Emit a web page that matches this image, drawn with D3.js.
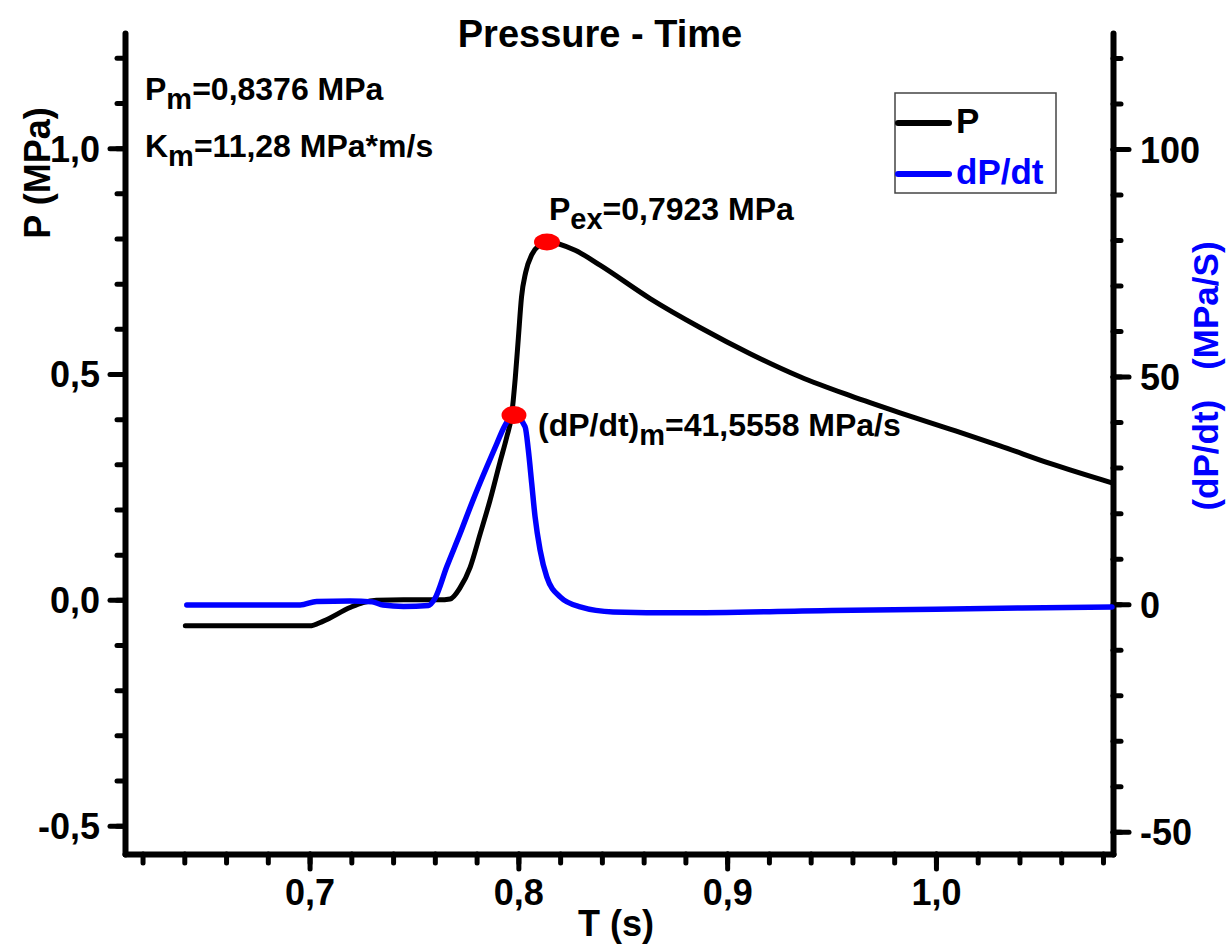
<!DOCTYPE html>
<html>
<head>
<meta charset="utf-8">
<script src="https://cdn.jsdelivr.net/npm/d3@7"></script>
<style>
  body { margin: 0; background: #fff; }
  text { font-family: "Liberation Sans", Arial, sans-serif; font-weight: bold; }
</style>
</head>
<body>
<div id="chart"></div>
<script>
// pressure curve
var pTime  = [0.6405, 0.700, 0.7066, 0.7194, 0.7256, 0.732, 0.745, 0.762, 0.7673, 0.7721, 0.7769, 0.7817,
              0.7864, 0.7912, 0.7944, 0.7968, 0.7985, 0.8000, 0.8015, 0.8035, 0.8065, 0.8100, 0.8137,
              0.8272, 0.8391, 0.8631, 0.8870, 0.9110, 0.9349, 0.9589, 0.9828, 1.0067, 1.0307, 1.0546, 1.0843];
var pValue = [-0.0576, -0.0576, -0.047, -0.017, -0.006, -0.001, 0.0, 0.0, 0.002, 0.027, 0.072, 0.146,
              0.22, 0.305, 0.36, 0.41, 0.49, 0.58, 0.67, 0.725, 0.765, 0.785, 0.7923,
              0.774, 0.741, 0.667, 0.603, 0.545, 0.494, 0.452, 0.414, 0.378, 0.341, 0.302, 0.259];

// dP/dt curve (right axis)
var dTime  = [0.6412, 0.6955, 0.7034, 0.7194, 0.7300, 0.7352, 0.7450, 0.7570, 0.7600, 0.7657, 0.7721,
              0.7783, 0.7849, 0.7897, 0.7936, 0.7979, 0.8032, 0.8048, 0.8064, 0.8080, 0.8104, 0.8136,
              0.8200, 0.8296, 0.8454, 0.8775, 0.9500, 1.0000, 1.0843];
var dValue = [-0.2, -0.2, 0.6, 0.7, 0.5, -0.2, -0.5, -0.3, 1.2, 8.2, 15.5,
              22.9, 30.2, 35.3, 39.3, 41.56, 39.0, 33.8, 26.5, 19.2, 11.9, 6.0,
              1.6, -0.6, -1.7, -1.9, -1.4, -1.1, -0.6];

var xTicks = [0.7, 0.8, 0.9, 1.0];
var yLeftTicks = [-0.5, 0.0, 0.5, 1.0];
var yRightTicks = [-50, 0, 50, 100];

var peakP = {t: 0.8137, v: 0.7923, label: "ex", text: "=0,7923 MPa"};
var peakD = {t: 0.7979, v: 41.56};

var width = 1230, height = 945;
var mLeft = 125, mRight = 1113, mTop = 33, mBottom = 854;

var svg = d3.select("#chart").append("svg")
    .attr("width", width)
    .attr("height", height);

var x = d3.scaleLinear().domain([0.6116, 1.0848]).range([mLeft, mRight]);
var yL = d3.scaleLinear().domain([-0.5627, 1.2550]).range([mBottom, mTop]);
var yR = d3.scaleLinear().domain([-54.9, 125.5]).range([mBottom, mTop]);

var loc = d3.formatLocale({decimal: ",", thousands: ".", grouping: [3], currency: ["", ""], minus: "-"});
var f1 = loc.format(".1f");
var f0 = loc.format("d");

function styleAxis(g, fs) {
    g.select(".domain").attr("stroke", "#000").attr("stroke-width", 6).attr("stroke-linecap", "round");
    g.selectAll(".tick line").attr("stroke", "#000").attr("stroke-width", 5).attr("stroke-linecap", "round");
    g.selectAll("text").attr("fill", "#000").style("font-size", fs + "px")
        .style("font-family", '"Liberation Sans", Arial, sans-serif').style("font-weight", "bold");
}

// minor ticks
svg.append("g").attr("transform", "translate(" + mLeft + ",0)")
    .call(d3.axisLeft(yL).tickValues(d3.range(-5, 13).map(function (d) { return d / 10; }))
        .tickSize(8).tickSizeOuter(0).tickFormat(""))
    .call(function (g) { styleAxis(g, 10); g.select(".domain").remove(); });
svg.append("g").attr("transform", "translate(" + mRight + ",0)")
    .call(d3.axisRight(yR).tickValues(d3.range(-50, 121, 10))
        .tickSize(8).tickSizeOuter(0).tickFormat(""))
    .call(function (g) { styleAxis(g, 10); g.select(".domain").remove(); });
svg.append("g").attr("transform", "translate(0," + mBottom + ")")
    .call(d3.axisBottom(x).tickValues(d3.range(31, 55).map(function (d) { return d / 50; }))
        .tickSize(9).tickSizeOuter(0).tickFormat(""))
    .call(function (g) { styleAxis(g, 10); g.select(".domain").remove(); });

// major axes
svg.append("g").attr("transform", "translate(" + mLeft + ",0)")
    .call(d3.axisLeft(yL).tickValues(yLeftTicks).tickFormat(f1).tickSize(15).tickPadding(10).tickSizeOuter(0))
    .call(function (g) { styleAxis(g, 36); g.selectAll("text").attr("dy", "0.36em"); });

svg.append("g").attr("transform", "translate(" + mRight + ",0)")
    .call(d3.axisRight(yR).tickValues(yRightTicks).tickFormat(f0).tickSize(16).tickPadding(11).tickSizeOuter(0))
    .call(function (g) { styleAxis(g, 36); g.selectAll("text").attr("dy", "0.36em"); });

svg.append("g").attr("transform", "translate(0," + mBottom + ")")
    .call(d3.axisBottom(x).tickValues(xTicks).tickFormat(f1).tickSize(15).tickSizeOuter(0))
    .call(function (g) { styleAxis(g, 36); g.selectAll("text").attr("y", 51).attr("dy", 0); });

// curves
var pData = pTime.map(function (t, i) { return [t, pValue[i]]; });
var dData = dTime.map(function (t, i) { return [t, dValue[i]]; });

svg.append("path").datum(pData)
    .attr("fill", "none").attr("stroke", "#000").attr("stroke-width", 5)
    .attr("stroke-linecap", "round").attr("stroke-linejoin", "round")
    .attr("d", d3.line().x(function (d) { return x(d[0]); }).y(function (d) { return yL(d[1]); })
        .curve(d3.curveMonotoneX));

svg.append("path").datum(dData)
    .attr("fill", "none").attr("stroke", "#0000ff").attr("stroke-width", 5.5)
    .attr("stroke-linecap", "round").attr("stroke-linejoin", "round")
    .attr("d", d3.line().x(function (d) { return x(d[0]); }).y(function (d) { return yR(d[1]); })
        .curve(d3.curveMonotoneX));

// red markers
svg.append("ellipse").attr("cx", x(peakP.t)).attr("cy", yL(peakP.v)).attr("rx", 13).attr("ry", 8.5).attr("fill", "#ff0000");
svg.append("ellipse").attr("cx", x(peakD.t)).attr("cy", yR(peakD.v)).attr("rx", 12.5).attr("ry", 9).attr("fill", "#ff0000");

// text with a subscript
function subText(px, py, main, sub, rest, fs, color) {
    var t = svg.append("text").attr("x", px).attr("y", py).attr("fill", color || "#000").style("font-size", fs + "px");
    t.append("tspan").text(main);
    t.append("tspan").attr("dy", 9).style("font-size", (fs - 3) + "px").text(sub);
    t.append("tspan").attr("dy", -9).text(rest);
    return t;
}

subText(145, 100, "P", "m", "=0,8376 MPa", 32);
subText(145, 157, "K", "m", "=11,28 MPa*m/s", 32);
subText(x(peakP.t) + 2, 220, "P", peakP.label, peakP.text, 32);
subText(x(peakD.t) + 24, 436, "(dP/dt)", "m", "=41,5558 MPa/s", 32);

// title and axis titles
svg.append("text").attr("x", 600).attr("y", 47).attr("text-anchor", "middle")
    .style("font-size", "38px").text("Pressure - Time");

svg.append("text").attr("x", 616).attr("y", 936).attr("text-anchor", "middle")
    .style("font-size", "36px").text("T (s)");

svg.append("text").attr("transform", "translate(50,173) rotate(-90)").attr("text-anchor", "middle")
    .style("font-size", "36px").text("P (MPa)");

var rt = svg.append("text").attr("transform", "translate(1218,376) rotate(-90)").attr("text-anchor", "middle")
    .attr("fill", "#0000ff").style("font-size", "35px");
rt.append("tspan").text("(dP/dt)");
rt.append("tspan").attr("dx", 30).text("(MPa/S)");

// legend
var lg = svg.append("g");
lg.append("rect").attr("x", 895).attr("y", 93).attr("width", 161).attr("height", 100)
    .attr("fill", "#fff").attr("stroke", "#444").attr("stroke-width", 1.5);
var legendItems = [{name: "P", color: "#000", y: 123}, {name: "dP/dt", color: "#0000ff", y: 174}];
legendItems.forEach(function (d) {
    lg.append("line").attr("x1", 898).attr("x2", 949).attr("y1", d.y).attr("y2", d.y)
        .attr("stroke", d.color).attr("stroke-width", 6).attr("stroke-linecap", "round");
    lg.append("text").attr("x", 956).attr("y", d.y + 10).attr("fill", d.color)
        .style("font-size", "35px").text(d.name);
});
</script>
</body>
</html>
